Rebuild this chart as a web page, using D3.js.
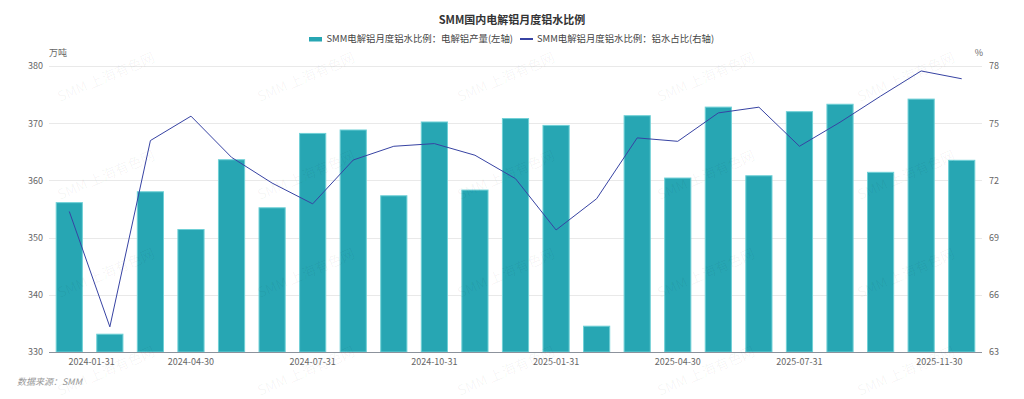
<!DOCTYPE html>
<html>
<head>
<meta charset="utf-8">
<script src="https://cdn.jsdelivr.net/npm/d3@7/dist/d3.min.js"></script>
<style>
  html, body { margin: 0; padding: 0; background: #fff; }
  svg { display: block; font-family: "Noto Sans CJK SC", "Noto Sans", sans-serif; }
</style>
</head>
<body>
<svg id="chart" width="1024" height="399"></svg>
<script>
// ---- data ----
const categories = [
  "2024-01-31","2024-02-29","2024-03-31","2024-04-30","2024-05-31","2024-06-30",
  "2024-07-31","2024-08-31","2024-09-30","2024-10-31","2024-11-30","2024-12-31",
  "2025-01-31","2025-02-28","2025-03-31","2025-04-30","2025-05-31","2025-06-30",
  "2025-07-31","2025-08-31","2025-09-30","2025-10-31","2025-11-30"
];
const production = [
  356.2, 333.2, 358.1, 351.5, 363.7, 355.3, 368.3, 368.9, 357.4, 370.3, 358.4, 370.9,
  369.7, 334.6, 371.4, 360.5, 372.9, 360.9, 372.1, 373.4, 361.5, 374.3, 363.6
];
const moltenRatio = [
  70.37, 64.32, 74.09, 75.37, 73.21, 71.86, 70.77, 73.07, 73.79, 73.93, 73.32, 72.09,
  69.40, 71.04, 74.23, 74.05, 75.54, 75.84, 73.79, 75.05, 76.42, 77.74, 77.33
];
const leftTicks = [330, 340, 350, 360, 370, 380];
const rightTicks = [63, 66, 69, 72, 75, 78];
const xTickLabels = ["2024-01-31","2024-04-30","2024-07-31","2024-10-31","2025-01-31","2025-04-30","2025-07-31","2025-11-30"];
const xTickPos = [0.55, 3, 6, 9, 12, 15, 18, 21.45];

const titleText = "SMM国内电解铝月度铝水比例";
const seriesNames = ["SMM电解铝月度铝水比例：电解铝产量(左轴)", "SMM电解铝月度铝水比例：铝水占比(右轴)"];
const leftUnit = "万吨";
const rightUnit = "%";
const sourceText = "数据来源：SMM";
const watermarkText = "SMM 上海有色网";

// ---- layout ----
const svg = d3.select("#chart");
const L = 49, R = 982, T = 66, B = 352;
const barColor = "#27a6b3", barEdge = "#6fd0d6", lineColor = "#3743a3";

const x = d3.scaleBand().domain(categories).range([L, R]).paddingInner(0.33).paddingOuter(0.165);
const xi = d3.scaleLinear().domain([0, categories.length - 1]).range([x(categories[0]) + x.bandwidth()/2, x(categories[categories.length-1]) + x.bandwidth()/2]);
const yL = d3.scaleLinear().domain([330, 380]).range([B, T]);
const yR = d3.scaleLinear().domain([63, 78]).range([B, T]);

// grid
svg.append("g").selectAll("line").data(leftTicks.slice(1)).join("line")
  .attr("x1", L).attr("x2", R)
  .attr("y1", d => Math.round(yL(d)) + 0.5).attr("y2", d => Math.round(yL(d)) + 0.5)
  .attr("stroke", "#e9e9e9").attr("stroke-width", 1);

// left axis labels
const leftAxis = d3.axisLeft(yL).tickValues(leftTicks).tickSize(0).tickPadding(6);
const gl = svg.append("g").attr("transform", `translate(${L-0},0)`).call(leftAxis);
gl.select(".domain").remove();
gl.selectAll("text").attr("font-size", 9).attr("fill", "#666").attr("font-family", "Noto Sans CJK SC, sans-serif");

const rightAxis = d3.axisRight(yR).tickValues(rightTicks).tickSize(0).tickPadding(7);
const gr = svg.append("g").attr("transform", `translate(${R},0)`).call(rightAxis);
gr.select(".domain").remove();
gr.selectAll("text").attr("font-size", 9).attr("fill", "#666").attr("font-family", "Noto Sans CJK SC, sans-serif");

// bars
svg.append("g").selectAll("rect").data(production).join("rect")
  .attr("x", (d, i) => x(categories[i]) + 0.5)
  .attr("y", d => yL(d) + 0.5)
  .attr("width", x.bandwidth() - 1)
  .attr("height", d => B - yL(d) - 0.5)
  .attr("fill", barColor)
  .attr("stroke", barEdge).attr("stroke-width", 1);

// x axis line
svg.append("line").attr("x1", L).attr("x2", R).attr("y1", B + 0.5).attr("y2", B + 0.5)
  .attr("stroke", "#8c929c").attr("stroke-width", 1);

// x labels
svg.append("g").selectAll("text").data(xTickLabels).join("text")
  .attr("x", (d, i) => xi(xTickPos[i]))
  .attr("y", 365)
  .attr("text-anchor", "middle")
  .attr("font-size", 9).attr("fill", "#666")
  .text(d => d);

// line
const line = d3.line().x((d, i) => xi(i)).y(d => yR(d));
svg.append("path").datum(moltenRatio).attr("d", line)
  .attr("fill", "none").attr("stroke", lineColor).attr("stroke-width", 1);

// units
svg.append("text").attr("x", L).attr("y", 56).attr("font-size", 9).attr("fill", "#666").text(leftUnit);
svg.append("text").attr("x", R + 1).attr("y", 56).attr("text-anchor", "end").attr("font-size", 9).attr("fill", "#666").text(rightUnit);

// title
svg.append("text").attr("x", 512).attr("y", 24).attr("text-anchor", "middle")
  .attr("font-size", 11).attr("font-weight", "bold").attr("fill", "#333").text(titleText);

// legend
svg.append("rect").attr("x", 309).attr("y", 37).attr("width", 13).attr("height", 4.5).attr("fill", barColor);
svg.append("text").attr("x", 326.5).attr("y", 42).attr("font-size", 9.4).attr("fill", "#444").text(seriesNames[0]);
svg.append("line").attr("x1", 520).attr("x2", 533).attr("y1", 39).attr("y2", 39).attr("stroke", lineColor).attr("stroke-width", 2);
svg.append("text").attr("x", 537).attr("y", 42).attr("font-size", 9.4).attr("fill", "#444").text(seriesNames[1]);

// source
svg.append("text").attr("x", 17).attr("y", 385).attr("font-size", 9).attr("font-style", "italic").attr("fill", "#999").text(sourceText);

// watermarks
const wmRows = [102, 200, 298, 396];
const wmCols = [60, 260, 460, 660, 860];
const wm = svg.append("g").attr("pointer-events", "none");
wmRows.forEach(yy => wmCols.forEach(xx => {
  wm.append("text").attr("transform", `translate(${xx},${yy}) rotate(-23)`)
    .attr("font-size", 14).attr("fill", "#000").attr("fill-opacity", 0.045).text(watermarkText);
}));
</script>
</body>
</html>
